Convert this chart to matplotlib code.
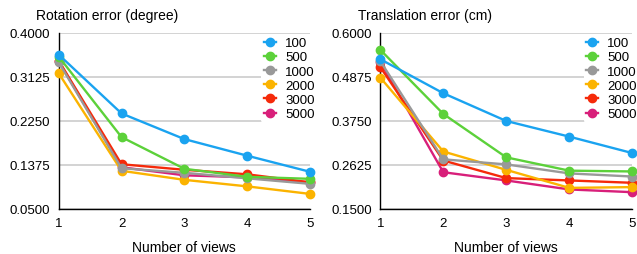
import matplotlib
matplotlib.use('Agg')
import matplotlib.pyplot as plt

plt.rcParams['font.family'] = ['Liberation Sans', 'DejaVu Sans']

VIEWS = [1, 2, 3, 4, 5]
SERIES = ['100', '500', '1000', '2000', '3000', '5000']
COLORS = ['#1AA3F0', '#5CD13A', '#999999', '#FBB300', '#F52A0A', '#D81F7A']

ROT_100 = [0.357, 0.240, 0.189, 0.156, 0.124]
ROT_500 = [0.353, 0.193, 0.130, 0.114, 0.110]
ROT_1000 = [0.342, 0.131, 0.122, 0.111, 0.100]
ROT_2000 = [0.320, 0.126, 0.108, 0.095, 0.080]
ROT_3000 = [0.345, 0.139, 0.128, 0.119, 0.103]
ROT_5000 = [0.344, 0.133, 0.117, 0.113, 0.103]

TRA_100 = [0.533, 0.446, 0.375, 0.335, 0.293]
TRA_500 = [0.557, 0.393, 0.282, 0.248, 0.246]
TRA_1000 = [0.528, 0.277, 0.264, 0.241, 0.233]
TRA_2000 = [0.486, 0.297, 0.250, 0.204, 0.206]
TRA_3000 = [0.513, 0.274, 0.229, 0.223, 0.217]
TRA_5000 = [0.526, 0.244, 0.223, 0.200, 0.193]

ROT_TICKS = [0.05, 0.1375, 0.225, 0.3125, 0.4]
TRA_TICKS = [0.15, 0.2625, 0.375, 0.4875, 0.6]


def draw_panel(ax, data, ticks, title):
    # 先画的系列在下面，100 在最上层
    for i, (vals, name, c) in enumerate(zip(data, SERIES, COLORS)):
        ax.plot(VIEWS, vals, color=c, marker='o', linewidth=1.7,
                markersize=6, label=name, clip_on=False, zorder=10 - i)
    ax.set_xlim(1, 5)
    ax.set_ylim(ticks[0], ticks[-1])
    ax.set_xticks(VIEWS)
    ax.set_yticks(ticks)
    ax.set_yticklabels([f'{t:.4f}' for t in ticks])
    ax.grid(axis='y', color='#cccccc', linewidth=1.2)
    ax.set_axisbelow(True)
    for s in ['top', 'right']:
        ax.spines[s].set_visible(False)
    ax.spines['left'].set_linewidth(1.0)
    ax.spines['bottom'].set_linewidth(1.0)
    ax.tick_params(length=0, labelsize=9.5, pad=6)
    ax.set_xlabel('Number of views', fontsize=10, labelpad=8)
    ax.text(-0.09, 1.06, title, transform=ax.transAxes, fontsize=10,
            ha='left', va='bottom')
    leg = ax.legend(loc='upper right', bbox_to_anchor=(1.055, 1.03),
                    frameon=True, fontsize=9.5, handlelength=0.9,
                    handletextpad=0.7, labelspacing=0.15, borderpad=0.2)
    leg.set_zorder(20)
    leg.get_frame().set_edgecolor('none')
    leg.get_frame().set_facecolor('white')
    leg.get_frame().set_alpha(1.0)


fig = plt.figure(figsize=(6.37, 2.55), dpi=100)
ax1 = fig.add_axes([58.7 / 637, 1 - 210 / 255, 251.3 / 637, 176 / 255])
ax2 = fig.add_axes([380.3 / 637, 1 - 210 / 255, 252 / 637, 176 / 255])

draw_panel(ax1, [ROT_100, ROT_500, ROT_1000, ROT_2000, ROT_3000, ROT_5000],
           ROT_TICKS, 'Rotation error (degree)')
draw_panel(ax2, [TRA_100, TRA_500, TRA_1000, TRA_2000, TRA_3000, TRA_5000],
           TRA_TICKS, 'Translation error (cm)')

plt.savefig('out.png', dpi=100)
